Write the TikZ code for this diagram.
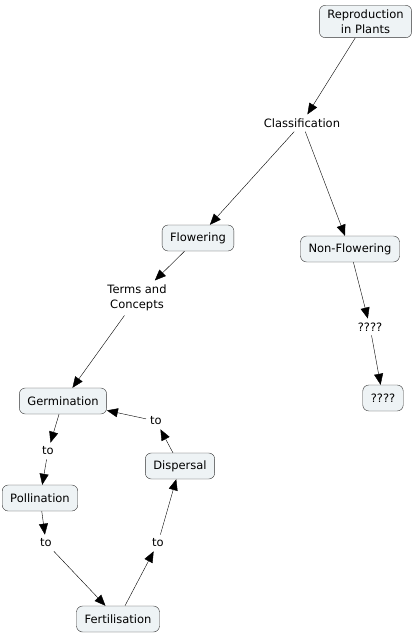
\documentclass[tikz,border=0pt]{standalone}
\usepackage{fontspec}
\setmainfont{DejaVu Sans}
\usetikzlibrary{arrows.meta}
\definecolor{boxfill}{RGB}{238,243,245}

\begin{document}
\begin{tikzpicture}[x=1pt, y=-1pt,
    every node/.style={font=\fontsize{11.5}{15.5}\selectfont},
    concept/.style={draw=black!80, fill=boxfill, rounded corners=6pt,
        minimum height=26pt, inner xsep=8pt, inner ysep=4pt, align=center},
    phrase/.style={inner sep=4pt, align=center},
    link/.style={-{Triangle[length=11pt, width=9pt]}, thin}]
    \useasboundingbox (0,0) rectangle (419,634);
    % Concepts
    \node[concept] (plants) at (365.5, 21.5) {Reproduction\\in Plants};
    \node[concept] (flow) at (198, 238) {Flowering};
    \node[concept] (nonflow) at (350, 249) {Non-Flowering};
    \node[concept] (unknown) at (383, 398) {????};
    \node[concept] (germ) at (63, 401) {Germination};
    \node[concept] (poll) at (40, 498) {Pollination};
    \node[concept] (disp) at (180, 466) {Dispersal};
    \node[concept] (fert) at (118, 619) {Fertilisation};
    % Linking phrases
    \node[phrase] (class) at (302, 123) {Classification};
    \node[phrase] (terms) at (137, 298) {Terms and\\Concepts};
    \node[phrase] (qq) at (370, 327) {????};
    \node[phrase] (to1) at (48, 451) {to};
    \node[phrase] (to2) at (46, 543) {to};
    \node[phrase] (to3) at (158, 543) {to};
    \node[phrase] (to4) at (156, 421) {to};
    % Connections
    \draw[link] (plants) -- (class);
    \draw[link] (class) -- (flow);
    \draw[link] (class) -- (nonflow);
    \draw[link] (flow) -- (terms);
    \draw[link] (terms) -- (germ);
    \draw[link] (nonflow) -- (qq);
    \draw[link] (qq) -- (unknown);
    \draw[link] (germ) -- (to1);
    \draw[link] (to1) -- (poll);
    \draw[link] (poll) -- (to2);
    \draw[link] (to2) -- (fert);
    \draw[link] (fert) -- (to3);
    \draw[link] (to3) -- (disp);
    \draw[link] (disp) -- (to4);
    \draw[link] (to4) -- (germ);
\end{tikzpicture}
\end{document}
